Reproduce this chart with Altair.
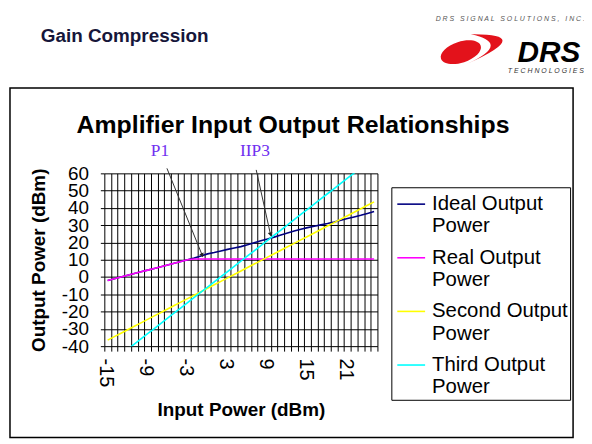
import altair as alt
import pandas as pd

# ---------------- data ----------------
input_dbm = list(range(-15, 26))
ideal_output = [-2.0, -1.0, 0.0, 1.0, 2.0, 3.0, 4.0, 5.0, 6.0, 7.0, 8.0, 9.0, 10.0, 11.0, 12.2,
                13.4, 14.2, 15.1, 16.0, 16.8, 17.6, 18.7, 19.9, 21.0, 22.0, 23.1, 24.3, 25.5,
                26.6, 27.7, 28.6, 29.4, 30.2, 31.0, 31.9, 32.9, 33.9, 34.8, 35.7, 36.8, 37.9]
real_output = [-2.0, -1.0, 0.0, 1.0, 2.0, 3.0, 4.0, 5.0, 6.0, 7.0, 8.0, 9.0, 10.0,
               10.4, 10.4, 10.4, 10.4, 10.4, 10.4, 10.4, 10.4, 10.4, 10.4, 10.4, 10.4, 10.4,
               10.4, 10.4, 10.4, 10.4, 10.4, 10.4, 10.4, 10.4, 10.4, 10.4, 10.4, 10.4, 10.4,
               10.4, 10.4]
second_output = [-36.5, -34.5, -32.5, -30.5, -28.5, -26.5, -24.5, -22.5, -20.5, -18.5, -16.5,
                 -14.5, -12.5, -10.5, -8.5, -6.5, -4.5, -2.5, -0.5, 1.5, 3.5, 5.5, 7.5, 9.5,
                 11.5, 13.5, 15.5, 17.5, 19.5, 21.5, 23.5, 25.5, 27.5, 29.5, 31.5, 33.5, 35.5,
                 37.5, 39.5, 41.5, 43.5]
third_output = [-50.8, -47.8, -44.8, -41.8, -38.8, -35.8, -32.8, -29.8, -26.8, -23.8, -20.8,
                -17.8, -14.8, -11.8, -8.8, -5.8, -2.8, 0.2, 3.2, 6.2, 9.2, 12.2, 15.2, 18.2,
                21.2, 24.2, 27.2, 30.2, 33.2, 36.2, 39.2, 42.2, 45.2, 48.2, 51.2, 54.2, 57.2,
                60.2, 63.2, 66.2, 69.2]

series_names = ["Ideal Output Power", "Real Output Power",
                "Second Output Power", "Third Output Power"]
series_colors = ["#000080", "#ff00ff", "#ffff00", "#00ffff"]

y_ticks = [-40, -30, -20, -10, 0, 10, 20, 30, 40, 50, 60]
x_label_values = [-15, -9, -3, 3, 9, 15, 21]
x_grid_values = [v - 0.5 for v in range(-15, 27)]

annot_text = ["P1", "IIP3"]
annot_x = [-7.15, 7.1]
annot_y = [69.8, 69.8]
arrow_x1 = [-6.1, 7.3]
arrow_y1 = [62.9, 62.0]
arrow_x2 = [-0.8, 9.45]
arrow_y2 = [12.6, 24.6]
arrow_angle = [157.7, 167.3]

# ---------------- tables ----------------
series_values = [ideal_output, real_output, second_output, third_output]
rows = []
for name, vals in zip(series_names, series_values):
    for xv, yv in zip(input_dbm, vals):
        rows.append({"input": xv, "output": yv, "series": name})
lines_df = pd.DataFrame(rows)
ideal_df = lines_df[lines_df["series"] == series_names[0]]
other_df = lines_df[lines_df["series"] != series_names[0]]

annot_df = pd.DataFrame({"text": annot_text, "x": annot_x, "y": annot_y})
arrow_df = pd.DataFrame({"x1": arrow_x1, "y1": arrow_y1, "x2": arrow_x2,
                         "y2": arrow_y2, "angle": arrow_angle})

FONT = "Liberation Sans"

x_scale = alt.Scale(domain=[-15.5, 25.5], nice=False, zero=False)
y_scale = alt.Scale(domain=[-40, 60], nice=False, zero=False)

half_test = "datum.value % 1 != 0"

x_axis = alt.Axis(
    values=x_grid_values + x_label_values, tickCount=200,
    title="Input Power (dBm)", titleFont=FONT, titleFontSize=19, titleFontWeight="bold",
    titleX=137.5, titleY=64, titleAlign="center", titleBaseline="middle", titleColor="black",
    labelExpr="datum.value % 1 == 0 ? '' + datum.value : ''",
    labelAngle=90, labelAlign="left", labelBaseline="middle", labelFont=FONT,
    labelFontSize=20, labelColor="black", labelPadding=7, labelOffset=-2,
    labelOverlap=False, labelFlush=False,
    tickSize=5, tickColor="black",
    tickOpacity={"condition": {"test": half_test, "value": 1}, "value": 0},
    grid=True, gridColor="black", gridWidth=1,
    gridOpacity={"condition": {"test": half_test, "value": 1}, "value": 0},
    domain=False,
)
y_axis = alt.Axis(
    values=y_ticks, tickCount=50,
    title="Output Power (dBm)", titleFont=FONT, titleFontSize=19, titleFontWeight="bold",
    titleAngle=270, titleX=-66, titleY=87, titleAlign="center", titleBaseline="middle",
    titleColor="black",
    labelExpr="'' + datum.value", labelFont=FONT, labelFontSize=19, labelColor="black",
    labelPadding=12, labelOverlap=False, labelFlush=False,
    tickSize=4, tickColor="black",
    grid=True, gridColor="black", gridWidth=1, domain=False,
)

legend = alt.Legend(
    orient="none", legendX=289, legendY=14, title=None,
    labelExpr="[replace(datum.label, ' Power', ''), 'Power']",
    labelFont=FONT, labelFontSize=20.5, labelColor="black", labelLimit=400, labelOffset=6,
    symbolType="M-1,0L1,0", symbolSize=784, symbolStrokeWidth=1.6, symbolOffset=3,
    strokeColor="black", fillColor="white", padding=2, rowPadding=6,
)

color_enc = alt.Color("series:N",
                      scale=alt.Scale(domain=series_names, range=series_colors),
                      legend=legend)

lines_ideal = alt.Chart(ideal_df).mark_line(strokeWidth=1.6, clip=True).encode(
    x=alt.X("input:Q", scale=x_scale, axis=x_axis),
    y=alt.Y("output:Q", scale=y_scale, axis=y_axis),
    color=color_enc,
)
lines_other = alt.Chart(other_df).mark_line(strokeWidth=1.6, clip=True).encode(
    x=alt.X("input:Q", scale=x_scale, axis=x_axis),
    y=alt.Y("output:Q", scale=y_scale, axis=y_axis),
    color=color_enc,
)

arrows = alt.Chart(arrow_df).mark_rule(color="#333333", strokeWidth=1, clip=False).encode(
    x="x1:Q", y="y1:Q", x2="x2:Q", y2="y2:Q"
)
heads = alt.Chart(arrow_df).mark_point(shape="triangle-up", filled=True, size=22,
                                       color="#222222", opacity=1, clip=False).encode(
    x="x2:Q", y="y2:Q", angle=alt.Angle("angle:Q", scale=None)
)
annots = alt.Chart(annot_df).mark_text(font="Liberation Serif", fontSize=17.5,
                                        color="#7030f0", baseline="alphabetic",
                                        align="center", clip=False).encode(
    x="x:Q", y="y:Q", text="text:N"
)

one = alt.Data(values=[{"k": 1}])


def label(txt, x, y, size, weight="normal", style="normal", color="black",
          align="left", font=FONT):
    return alt.Chart(one).mark_text(text=txt, fontSize=size, fontWeight=weight,
                                    fontStyle=style, color=color, align=align,
                                    baseline="alphabetic", font=font).encode(
        x=alt.value(x), y=alt.value(y))


frame = alt.Chart(one).mark_rect(fillOpacity=0, stroke="black", strokeWidth=1.5).encode(
    x=alt.value(-95), x2=alt.value(472), y=alt.value(-86), y2=alt.value(266))

NB = "\u00a0"
company_text = (" ".join("DRS") + NB * 3 + " ".join("SIGNAL") + NB * 3 +
                " ".join("SOLUTIONS,") + NB * 3 + " ".join("INC."))
header = label("Gain Compression", -64, -132, 19, weight="bold", color="#16163a")
company = label(company_text, 484, -153, 7, style="italic", color="#555555", align="right")
drs = label("DRS", 416, -112, 30, weight="bold", style="italic", color="black")
tech = label(" ".join("TECHNOLOGIES"), 483, -101, 7, style="italic",
             color="#333333", align="right")
title = label("Amplifier Input Output Relationships", 190, -41, 25, weight="bold",
              align="center")

ellipse_path = ("M -0.969 0.323 A 0.646 0.323 -18 0 1 0.262 -0.077 "
                "A 0.646 0.323 -18 0 1 -0.969 0.323 Z")
crescent_path = ("M -0.046 -0.431 Q 1.98 -0.46 -0.169 0.492 "
                 "Q 1.245 -0.155 -0.046 -0.431 Z")
logo_a = alt.Chart(one).mark_point(shape=ellipse_path, filled=True, size=4225,
                                   color="#e3121b", opacity=1, strokeWidth=0).encode(
    x=alt.value(370.5), y=alt.value(-126))
logo_b = alt.Chart(one).mark_point(shape=crescent_path, filled=True, size=4225,
                                   color="#e3121b", opacity=1, strokeWidth=0).encode(
    x=alt.value(370.5), y=alt.value(-126))

chart = alt.layer(
    frame, header, company, logo_a, logo_b, drs, tech, title,
    lines_ideal, lines_other, arrows, heads, annots
).properties(
    width=275, height=174,
    padding={"left": 97, "top": 165, "right": 208, "bottom": 95},
    autosize=alt.AutoSizeParams(type="none"),
    background="white",
).configure_view(strokeWidth=0)

chart.save("out.html", embed_options={"renderer": "svg", "actions": False})
